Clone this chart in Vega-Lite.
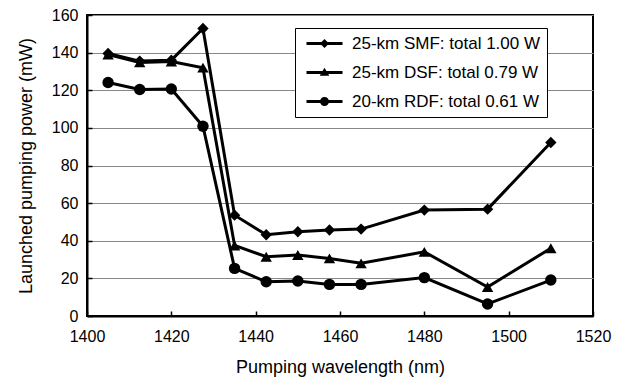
{
  "$schema": "https://vega.github.io/schema/vega-lite/v6.json",
  "autosize": "none",
  "width": 506,
  "height": 301,
  "padding": {"left": 87, "top": 15, "right": 28, "bottom": 64},
  "background": "white",
  "config": {
    "font": "Liberation Sans",
    "view": {"stroke": "#000", "strokeWidth": 2},
    "axis": {
      "domainColor": "#000", "domainWidth": 2,
      "tickColor": "#000", "tickWidth": 1.5, "tickSize": -5,
      "labelFont": "Liberation Sans", "labelFontSize": 16, "labelColor": "#000", "labelFlush": false,
      "titleFont": "Liberation Sans", "titleFontSize": 18, "titleFontWeight": "normal", "titleColor": "#000",
      "gridColor": "#888", "gridWidth": 1
    }
  },
  "data": {"values": [
    {"wl": 1405, "power": 139.5, "series": "25-km SMF: total 1.00 W"},
    {"wl": 1412.5, "power": 135.5, "series": "25-km SMF: total 1.00 W"},
    {"wl": 1420, "power": 136, "series": "25-km SMF: total 1.00 W"},
    {"wl": 1427.5, "power": 152.8, "series": "25-km SMF: total 1.00 W"},
    {"wl": 1435, "power": 53.6, "series": "25-km SMF: total 1.00 W"},
    {"wl": 1442.5, "power": 43.2, "series": "25-km SMF: total 1.00 W"},
    {"wl": 1450, "power": 44.8, "series": "25-km SMF: total 1.00 W"},
    {"wl": 1457.5, "power": 45.7, "series": "25-km SMF: total 1.00 W"},
    {"wl": 1465, "power": 46.2, "series": "25-km SMF: total 1.00 W"},
    {"wl": 1480, "power": 56.3, "series": "25-km SMF: total 1.00 W"},
    {"wl": 1495, "power": 56.8, "series": "25-km SMF: total 1.00 W"},
    {"wl": 1510, "power": 92.2, "series": "25-km SMF: total 1.00 W"},
    {"wl": 1405, "power": 139, "series": "25-km DSF: total 0.79 W"},
    {"wl": 1412.5, "power": 134.8, "series": "25-km DSF: total 0.79 W"},
    {"wl": 1420, "power": 135.3, "series": "25-km DSF: total 0.79 W"},
    {"wl": 1427.5, "power": 132, "series": "25-km DSF: total 0.79 W"},
    {"wl": 1435, "power": 37.5, "series": "25-km DSF: total 0.79 W"},
    {"wl": 1442.5, "power": 31.5, "series": "25-km DSF: total 0.79 W"},
    {"wl": 1450, "power": 32.4, "series": "25-km DSF: total 0.79 W"},
    {"wl": 1457.5, "power": 30.6, "series": "25-km DSF: total 0.79 W"},
    {"wl": 1465, "power": 28, "series": "25-km DSF: total 0.79 W"},
    {"wl": 1480, "power": 34.1, "series": "25-km DSF: total 0.79 W"},
    {"wl": 1495, "power": 15.4, "series": "25-km DSF: total 0.79 W"},
    {"wl": 1510, "power": 36, "series": "25-km DSF: total 0.79 W"},
    {"wl": 1405, "power": 124.1, "series": "20-km RDF: total 0.61 W"},
    {"wl": 1412.5, "power": 120.4, "series": "20-km RDF: total 0.61 W"},
    {"wl": 1420, "power": 120.7, "series": "20-km RDF: total 0.61 W"},
    {"wl": 1427.5, "power": 100.9, "series": "20-km RDF: total 0.61 W"},
    {"wl": 1435, "power": 25.3, "series": "20-km RDF: total 0.61 W"},
    {"wl": 1442.5, "power": 18.2, "series": "20-km RDF: total 0.61 W"},
    {"wl": 1450, "power": 18.6, "series": "20-km RDF: total 0.61 W"},
    {"wl": 1457.5, "power": 16.8, "series": "20-km RDF: total 0.61 W"},
    {"wl": 1465, "power": 16.8, "series": "20-km RDF: total 0.61 W"},
    {"wl": 1480, "power": 20.4, "series": "20-km RDF: total 0.61 W"},
    {"wl": 1495, "power": 6.4, "series": "20-km RDF: total 0.61 W"},
    {"wl": 1510, "power": 19.1, "series": "20-km RDF: total 0.61 W"}
  ]},
  "encoding": {
    "x": {"field": "wl", "type": "quantitative",
      "scale": {"domain": [1400, 1520], "nice": false, "zero": false},
      "axis": {"values": [1400, 1420, 1440, 1460, 1480, 1500, 1520], "grid": false, "labelPadding": 17, "title": "Pumping wavelength (nm)", "titlePadding": 14, "format": "d"}},
    "y": {"field": "power", "type": "quantitative",
      "scale": {"domain": [0, 160], "nice": false},
      "axis": {"values": [0, 20, 40, 60, 80, 100, 120, 140, 160], "grid": true, "labelPadding": 14, "title": "Launched pumping power (mW)", "titlePadding": 16}}
  },
  "layer": [
    {"mark": {"type": "line", "color": "#000", "strokeWidth": 3},
     "encoding": {"detail": {"field": "series"}}},
    {"mark": {"type": "point", "filled": true, "color": "#000", "opacity": 1, "size": 130},
     "encoding": {"shape": {"field": "series", "type": "nominal",
       "scale": {"domain": ["25-km SMF: total 1.00 W", "25-km DSF: total 0.79 W", "20-km RDF: total 0.61 W"], "range": ["diamond", "triangle-up", "circle"]},
       "legend": null}}},
    {"mark": {"type": "point", "filled": true, "color": "#000", "opacity": 0, "size": 144},
     "encoding": {"shape": {"field": "series", "type": "nominal",
       "scale": {"domain": ["25-km SMF: total 1.00 W", "25-km DSF: total 0.79 W", "20-km RDF: total 0.61 W"],
         "range": [
           "M-3,-0.25H3V0.25H-3Z M0,-0.75L0.75,0L0,0.75L-0.75,0Z",
           "M-3,-0.25H3V0.25H-3Z M0,-0.8L0.8,0.55L-0.8,0.55Z",
           "M-3,-0.25H3V0.25H-3Z M-0.75,0A0.75,0.75,0,1,1,0.75,0A0.75,0.75,0,1,1,-0.75,0Z"]},
       "legend": {"title": null, "orient": "none", "legendX": 208, "legendY": 13,
         "strokeColor": "#000", "fillColor": "#fff", "padding": 7,
         "symbolSize": 144, "symbolStrokeWidth": 0, "symbolOpacity": 1, "symbolFillColor": "#000",
         "symbolOffset": 14, "labelOffset": 19, "rowPadding": 11, "labelLimit": 400,
         "labelFont": "Liberation Sans", "labelFontSize": 17, "labelColor": "#000",
         "labelExpr": "datum.label + '    '"}}}}
  ],
  "resolve": {"scale": {"shape": "independent"}, "legend": {"shape": "independent"}}
}
